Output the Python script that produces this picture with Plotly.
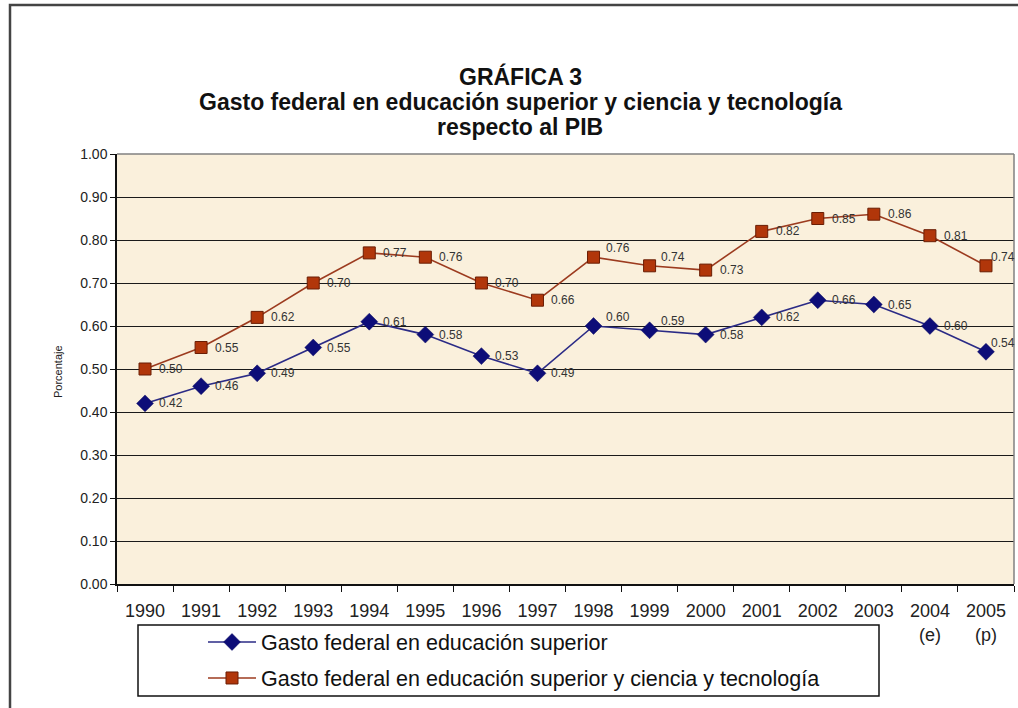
import plotly.graph_objects as go

# Years on the category axis and their tick labels
years = ["1990", "1991", "1992", "1993", "1994", "1995", "1996", "1997",
         "1998", "1999", "2000", "2001", "2002", "2003", "2004", "2005"]
year_labels = years[:14] + ["2004<br>(e)", "2005<br>(p)"]

# Federal spending as a percentage of GDP
superior = [0.42, 0.46, 0.49, 0.55, 0.61, 0.58, 0.53, 0.49,
            0.60, 0.59, 0.58, 0.62, 0.66, 0.65, 0.60, 0.54]
superior_cyt = [0.50, 0.55, 0.62, 0.70, 0.77, 0.76, 0.70, 0.66,
                0.76, 0.74, 0.73, 0.82, 0.85, 0.86, 0.81, 0.74]

name_sup = "Gasto federal en educación superior"
name_cyt = "Gasto federal en educación superior y ciencia y tecnología"

title_lines = ["GRÁFICA 3",
               "Gasto federal en educación superior y ciencia y tecnología",
               "respecto al PIB"]

# Value labels: pixel shift from the marker for a few crowded years
label_shift = {"1998": (10, 9), "1999": (9, 9), "2005": (3, 9)}
default_shift = (12, 0)

W, H = 1018, 708
L, R, T, B = 117, 4, 154, 124
PW, PH = W - L - R, H - T - B


def px_x(px):
    return (px - L) / PW


def px_y(py):
    return (H - B - py) / PH


FONT = "Liberation Sans, Arial, sans-serif"

fig = go.Figure()

fig.add_trace(go.Scatter(
    x=years, y=superior, name=name_sup, mode="lines+markers",
    line=dict(color="#2b2b86", width=1.6),
    marker=dict(symbol="diamond", size=13, color="#0d0d78",
                line=dict(color="#0d0d60", width=0.5)),
    legend="legend", showlegend=True,
))

fig.add_trace(go.Scatter(
    x=years, y=superior_cyt, name=name_cyt, mode="lines+markers",
    line=dict(color="#9c3b1f", width=1.6),
    marker=dict(symbol="square", size=12, color="#b1360a",
                line=dict(color="#6a1d04", width=1)),
    legend="legend2", showlegend=True,
))

shapes = [
    # outer frame of the chart
    dict(type="rect", xref="paper", yref="paper",
         x0=px_x(10), x1=px_x(1030), y0=px_y(720), y1=px_y(5),
         line=dict(color="#444444", width=2.5), layer="below"),
    # plot-area border on top and right
    dict(type="line", xref="paper", yref="paper",
         x0=0, x1=1, y0=1, y1=1, line=dict(color="#808080", width=1.5)),
    dict(type="line", xref="paper", yref="paper",
         x0=1, x1=1, y0=0, y1=1, line=dict(color="#808080", width=1.5)),
    # legend box
    dict(type="rect", xref="paper", yref="paper",
         x0=px_x(138), x1=px_x(879), y0=px_y(696), y1=px_y(625),
         line=dict(color="#111111", width=1.5)),
]

annotations = []
for line_text, y_px in zip(title_lines, [76, 102, 127]):
    annotations.append(dict(
        text=f"<b>{line_text}</b>",
        xref="paper", yref="paper", x=px_x(520), y=px_y(y_px),
        xanchor="center", yanchor="middle", showarrow=False,
        font=dict(family=FONT, size=23, color="#111111")))

annotations.append(dict(
    text="Porcentaje", textangle=-90,
    xref="paper", yref="paper", x=px_x(58), y=px_y(372),
    xanchor="center", yanchor="middle", showarrow=False,
    font=dict(family=FONT, size=11, color="#222222")))

# Data value labels next to each marker (x given as category index)
for series in (superior, superior_cyt):
    for i, (yr, v) in enumerate(zip(years, series)):
        dx, dy = label_shift.get(yr, default_shift)
        annotations.append(dict(
            text=f"{v:.2f}", x=i, y=v, xref="x", yref="y",
            xanchor="left", yanchor="middle", xshift=dx, yshift=dy,
            showarrow=False,
            font=dict(family=FONT, size=12, color="#333333")))

legend_common = dict(
    orientation="v", xanchor="left", yanchor="middle",
    bgcolor="rgba(0,0,0,0)", borderwidth=0, itemwidth=48,
    font=dict(family=FONT, size=21.5, color="#111111"),
)

fig.update_layout(
    width=W, height=H,
    margin=dict(l=L, r=R, t=T, b=B),
    paper_bgcolor="white",
    plot_bgcolor="#faf0dc",
    showlegend=True,
    shapes=shapes,
    annotations=annotations,
    legend=dict(x=px_x(203), y=px_y(642), **legend_common),
    legend2=dict(x=px_x(203), y=px_y(678), **legend_common),
    xaxis=dict(
        type="category", range=[-0.5, 15.5],
        tickmode="array", tickvals=years, ticktext=year_labels,
        tickson="boundaries", ticks="outside", ticklen=6, tickcolor="#111111",
        ticklabelstandoff=10,
        showline=True, linecolor="#111111", linewidth=1.5, showgrid=False,
        tickfont=dict(family=FONT, size=18, color="#222222"),
    ),
    yaxis=dict(
        range=[0, 1], dtick=0.1, tickformat=".2f",
        ticks="outside", ticklen=5, tickcolor="#111111",
        showline=True, linecolor="#111111", linewidth=1.5,
        showgrid=True, gridcolor="#1a1a1a", gridwidth=1.2, zeroline=False,
        tickfont=dict(family=FONT, size=14, color="#222222"),
    ),
)

fig.write_html("out.html")
